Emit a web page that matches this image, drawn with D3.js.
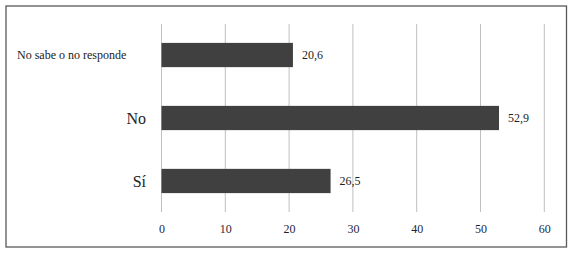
<!DOCTYPE html>
<html><head><meta charset="utf-8">
<script src="https://cdn.jsdelivr.net/npm/d3@7"></script>
<style>body{margin:0;background:#fff}svg{display:block}</style>
</head><body>
<svg id="c" width="575" height="257"></svg>
<script>
const categories = ["No sabe o no responde", "No", "Sí"];
const values = [20.6, 52.9, 26.5];
const valueLabels = ["20,6", "52,9", "26,5"];
const tickValues = [0, 10, 20, 30, 40, 50, 60];

const FONT = "'Liberation Serif', 'Times New Roman', serif";
const svg = d3.select("#c");
svg.append("rect").attr("x", 6).attr("y", 6).attr("width", 560.5).attr("height", 241)
  .attr("fill", "#fff").attr("stroke", "#595959").attr("stroke-width", 1.3);

const x = d3.scaleLinear().domain([0, 60]).range([161.5, 544.3]);
const y = d3.scaleBand().domain(categories).range([24, 212]).paddingInner(0.615).paddingOuter(0.3);

// gridlines
svg.append("g").selectAll("line").data(tickValues).join("line")
  .attr("x1", d => x(d)).attr("x2", d => x(d)).attr("y1", 24).attr("y2", 212)
  .attr("stroke", "#bfbfbf").attr("stroke-width", 1);

// axis
const ax = svg.append("g").attr("transform", "translate(0,212)")
  .call(d3.axisBottom(x).tickValues(tickValues).tickSize(0).tickPadding(12).tickFormat(d3.format("d")));
ax.select(".domain").remove();
ax.attr("font-family", null);
ax.selectAll("text").attr("fill", "#1f1f3a").style("font-family", FONT).style("font-size", "12px");

// bars
svg.append("g").selectAll("rect").data(values).join("rect")
  .attr("x", x(0)).attr("y", (d, i) => y(categories[i]))
  .attr("width", d => x(d) - x(0)).attr("height", y.bandwidth())
  .attr("fill", "#404040");

// value labels
svg.append("g").selectAll("text").data(values).join("text")
  .attr("x", d => x(d) + 9).attr("y", (d, i) => y(categories[i]) + y.bandwidth() / 2)
  .attr("dy", "0.35em").attr("fill", "#222")
  .style("font-family", FONT).style("font-size", "12px")
  .text((d, i) => valueLabels[i]);

// category labels
svg.append("g").selectAll("text").data(categories).join("text")
  .attr("x", (d, i) => i === 0 ? 17 : 146)
  .attr("text-anchor", (d, i) => i === 0 ? "start" : "end")
  .attr("y", d => y(d) + y.bandwidth() / 2).attr("dy", "0.35em")
  .attr("fill", "#222")
  .style("font-family", FONT)
  .style("font-size", (d, i) => i === 0 ? "12px" : "16px")
  .text(d => d);
</script>
</body></html>
